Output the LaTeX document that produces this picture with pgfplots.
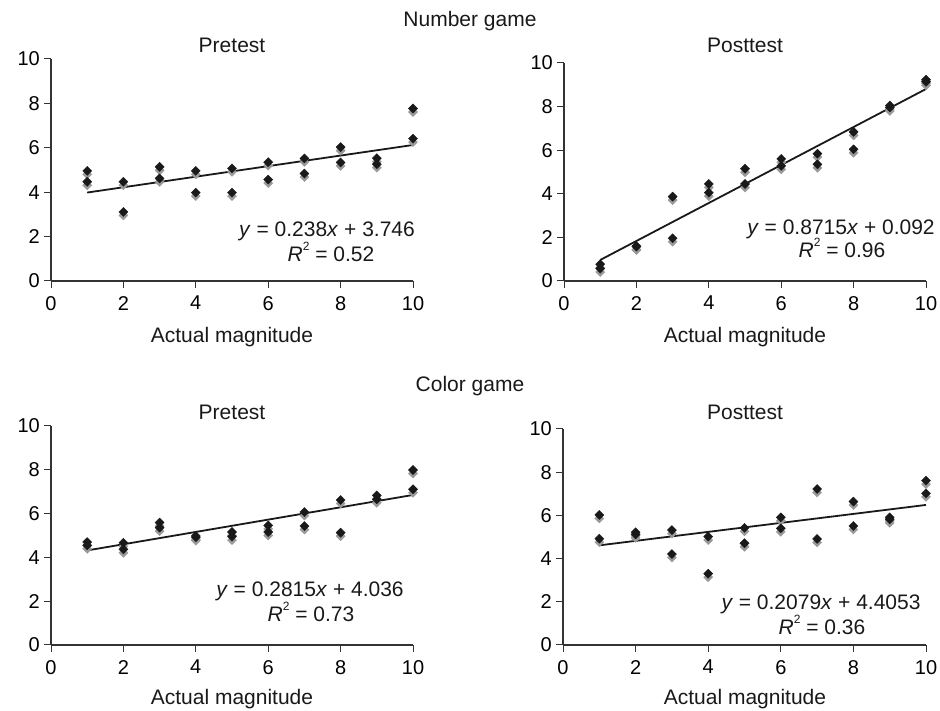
\documentclass[border=0pt]{standalone}
\usepackage{fontspec}
\setmainfont{Liberation Sans}
\usepackage{pgfplots}
\usepackage{pgfplotstable}
\pgfplotsset{compat=1.18}
\newcommand\fs{\fontsize{21bp}{25bp}\selectfont}
\newcommand\ft{\fontsize{20bp}{24bp}\selectfont}

\pgfplotstableread{
x y
1 4.96
1 4.47
2 4.47
2 3.11
3 5.14
3 4.62
4 4.96
4 3.98
5 5.07
5 3.98
6 5.35
6 4.57
7 5.52
7 4.84
8 6.03
8 5.34
9 5.53
9 5.26
10 7.77
10 6.41
}\numpre
\pgfplotstableread{
x y
1 0.77
1 0.57
2 1.60
2 1.58
3 3.87
3 1.96
4 4.45
4 4.05
5 5.15
5 4.45
6 5.60
6 5.28
7 5.84
7 5.35
8 6.84
8 6.04
9 8.05
9 7.96
10 9.23
10 9.14
}\numpost
\pgfplotstableread{
x y
1 4.70
1 4.55
2 4.67
2 4.37
3 5.59
3 5.36
4 4.98
4 4.92
5 5.16
5 4.95
6 5.46
6 5.16
7 6.07
7 5.43
8 6.62
8 5.13
9 6.83
9 6.65
10 7.99
10 7.11
}\colpre
\pgfplotstableread{
x y
1 6.02
1 4.92
2 5.22
2 5.12
3 5.32
3 4.21
4 5.02
4 3.30
5 5.42
5 4.71
6 5.91
6 5.40
7 7.22
7 4.91
8 6.64
8 5.51
9 5.91
9 5.82
10 7.61
10 7.02
}\colpost

\pgfplotsset{
  panel/.style={
    scale only axis, anchor=south west, clip=false,
    axis x line=bottom, axis y line=left,
    axis line style={-, line width=1.1bp, black!80},
    xmin=0, xmax=10, ymin=0, ymax=10,
    xtick={0,2,...,10}, ytick={0,2,...,10},
    tick align=outside, major tick length=7bp,
    tick style={line width=1bp, black!80},
    tick label style={font=\ft},
    /pgf/number format/assume math mode=true,
    yticklabel style={inner sep=1bp, xshift=-3bp},
    xticklabel style={inner sep=1bp, yshift=-7bp},
  },
  shadow/.style={only marks, mark=square*, mark size=3.2bp,
    mark options={yshift=-3.5bp, rotate=45, fill=black!40, draw=black!40}},
  dots/.style={only marks, mark=square*, mark size=3.2bp,
    mark options={rotate=45, fill=black!90, draw=black!90}},
  fit/.style={black!90, line width=1.8bp, no marks},
}

\begin{document}
\begin{tikzpicture}[x=1bp,y=1bp]
\useasboundingbox (0,0) rectangle (940,711);

\begin{axis}[panel, at={(51bp,430bp)}, width=362bp, height=222bp]
\addplot[shadow] table {\numpre};
\addplot[dots] table {\numpre};
\addplot[fit] coordinates {(1,3.984) (10,6.126)};
\end{axis}

\begin{axis}[panel, at={(564bp,430bp)}, width=362bp, height=218bp]
\addplot[shadow] table {\numpost};
\addplot[dots] table {\numpost};
\addplot[fit] coordinates {(1,0.9635) (10,8.807)};
\end{axis}

\begin{axis}[panel, at={(51bp,66bp)}, width=362bp, height=219bp]
\addplot[shadow] table {\colpre};
\addplot[dots] table {\colpre};
\addplot[fit] coordinates {(1,4.3175) (10,6.851)};
\end{axis}

\begin{axis}[panel, at={(563bp,66bp)}, width=363bp, height=216bp]
\addplot[shadow] table {\colpost};
\addplot[dots] table {\colpost};
\addplot[fit] coordinates {(1,4.6132) (10,6.4843)};
\end{axis}

\begin{scope}[every node/.style={font=\fs, anchor=base, inner sep=0pt, text=black!90}]
\node at (470,684.5) {Number game};
\node at (232,658.5) {Pretest};
\node at (745,658.5) {Posttest};
\node at (470,319) {Color game};
\node at (232,291) {Pretest};
\node at (745,291) {Posttest};
\node at (232,368) {Actual magnitude};
\node at (745,368) {Actual magnitude};
\node at (232,6) {Actual magnitude};
\node at (745,6) {Actual magnitude};

\node at (327,474) {\textit{y} = 0.238\textit{x} + 3.746};
\node at (331,449) {\textit{R}\raisebox{0.55em}{\fontsize{12bp}{14bp}\selectfont 2} = 0.52};
\node at (841,476) {\textit{y} = 0.8715\textit{x} + 0.092};
\node at (842,453) {\textit{R}\raisebox{0.55em}{\fontsize{12bp}{14bp}\selectfont 2} = 0.96};
\node at (310,114) {\textit{y} = 0.2815\textit{x} + 4.036};
\node at (311,89) {\textit{R}\raisebox{0.55em}{\fontsize{12bp}{14bp}\selectfont 2} = 0.73};
\node at (821,101) {\textit{y} = 0.2079\textit{x} + 4.4053};
\node at (822,76) {\textit{R}\raisebox{0.55em}{\fontsize{12bp}{14bp}\selectfont 2} = 0.36};
\end{scope}
\end{tikzpicture}
\end{document}
